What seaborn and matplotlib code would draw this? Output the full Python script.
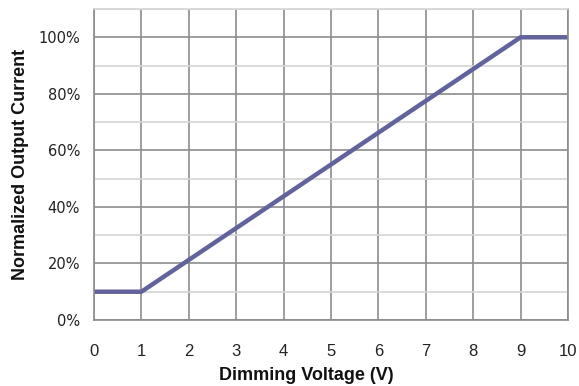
import matplotlib
matplotlib.use("Agg")
import matplotlib.pyplot as plt
import seaborn as sns
import pandas as pd
from matplotlib.ticker import MultipleLocator, FuncFormatter

# Dimming curve: output current vs. control voltage
voltage = [0, 1, 9, 10]
current_pct = [10, 10, 100, 100]
x_ticks = list(range(0, 11))
y_ticks = [0, 20, 40, 60, 80, 100]

df = pd.DataFrame({"voltage": voltage, "current": current_pct})

sns.set_theme(style="white")
plt.rcParams["font.family"] = ["Liberation Sans", "DejaVu Sans"]

fig = plt.figure(figsize=(5.79, 3.86), dpi=100)
ax = fig.add_axes([94 / 579, 1 - 320 / 386, (568 - 94) / 579, (320 - 9) / 386])

ax.set_xlim(0, 10)
ax.set_ylim(0, 110)
ax.set_xticks(x_ticks)
ax.set_yticks(y_ticks)
ax.yaxis.set_minor_locator(MultipleLocator(10))
ax.yaxis.set_major_formatter(FuncFormatter(lambda v, _: f"{int(v)}%"))

ax.grid(which="major", axis="both", color="#8c8c8c", linewidth=1.2)
ax.grid(which="minor", axis="y", color="#d4d4d4", linewidth=1.2)
ax.set_axisbelow(True)

sns.lineplot(data=df, x="voltage", y="current", ax=ax, color="#62629c",
             linewidth=3.2, solid_joinstyle="miter", solid_capstyle="butt")

for side in ["left", "bottom", "right"]:
    ax.spines[side].set_color("#8c8c8c")
    ax.spines[side].set_linewidth(1.2)
ax.spines["top"].set_color("#d4d4d4")
ax.spines["top"].set_linewidth(1.2)

ax.tick_params(axis="both", which="both", length=0, colors="#222222")
ax.tick_params(axis="x", pad=17, labelsize=12)
ax.tick_params(axis="y", pad=10, labelsize=10.5, labelfontfamily="DejaVu Sans")

ax.set_xlabel("Dimming Voltage (V)", fontsize=13, fontweight="bold", color="#111111")
ax.xaxis.set_label_coords(0.447, -0.152)
ax.set_ylabel("Normalized Output Current", fontsize=13, fontweight="bold",
              color="#111111", labelpad=7)

fig.savefig("out.png", dpi=100)
